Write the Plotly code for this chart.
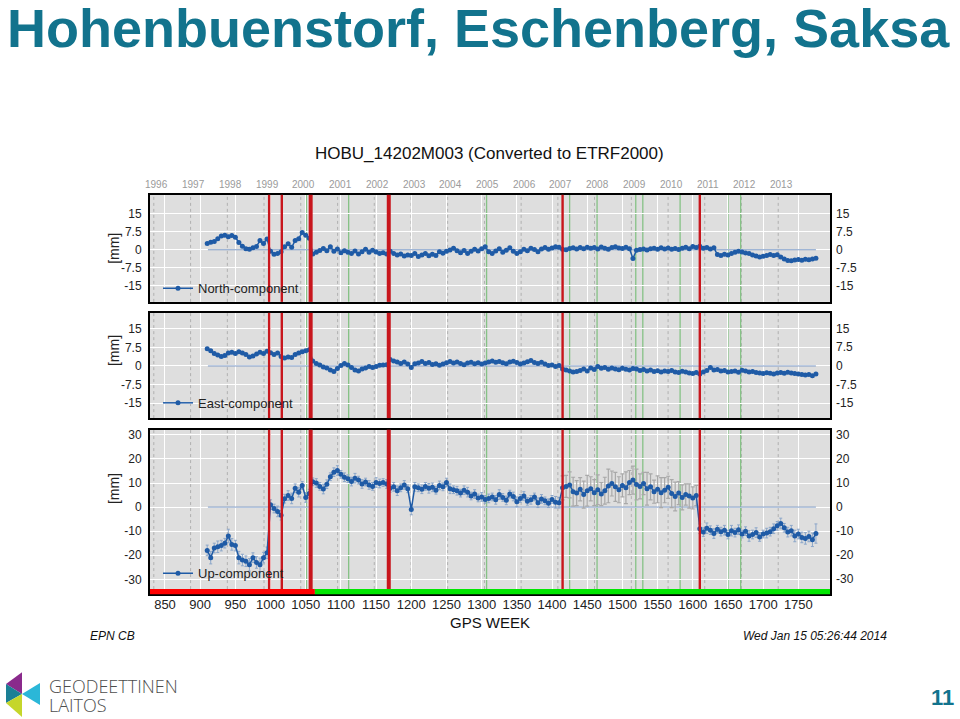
import plotly.graph_objects as go

W, H = 960, 719


def px(x):
    return x / W


def py(y):
    return 1 - y / H


# ---------------- data ----------------
weeks = list(range(910, 1776, 5))  # GPS weeks of the (sampled) weekly solutions

north = [
    2.6, 3.1, 3.4, 4.6, 5.7, 6.0, 5.4, 5.9, 5.2, 3.0,
    1.5, 0.4, 0.2, 0.8, 1.4, 3.8, 2.6, 4.5, -0.6, -1.9,
    -1.5, -0.8, 1.2, 2.5, 1.0, 3.8, 4.6, 7.2, 6.0, 4.8,
    -1.8, -1.0, -0.3, 0.5, -0.4, 1.2, -0.6, 0.3, -1.2, -0.4,
    -1.0, -1.6, -0.5, -1.8, -0.8, 0.2, -1.0, -0.2, -0.9, -1.5,
    -1.2, -1.8, -0.6, -1.6, -2.2, -1.8, -2.6, -2.2, -2.4, -1.6,
    -2.8, -2.2, -1.6, -2.5, -1.9, -2.4, -0.8, -1.4, -0.6, -0.1,
    0.6, -0.4, -1.2, -0.3, -1.5, -0.6, 0.2, -0.5, 0.4, 1.2,
    -0.8, -1.6, -0.5, 0.4, -1.0, -0.2, 0.8, -0.6, -1.5, -0.8,
    0.2, -0.4, 0.6, 0.1, -0.8, 0.3, 0.9, 0.2, 0.7, 1.2,
    1.0, 0.2, 0.0, 0.5, 0.8, 0.3, 0.9, 0.4, 1.0, 0.6,
    0.9, 0.3, 1.1, 0.6, 0.2, 0.9, 1.2, 0.7, 0.5, 1.0,
    0.4, -3.6, -0.2, 0.1, 0.3, -0.1, 0.4, 0.6, 0.2, 0.8,
    0.3, 0.7, 0.2, 0.5, 0.1, 0.6, 1.0, 0.4, 1.3, 0.9,
    1.5, 0.6, 0.9, 0.3, 0.8, -2.0, -2.4, -1.9, -2.2, -1.6,
    -1.0, -0.6, -0.9, -1.3, -1.6, -2.2, -2.6, -3.0, -2.7, -2.4,
    -2.0, -2.4, -2.1, -3.0, -3.8, -4.5, -4.6, -4.2, -4.0, -4.3,
    -3.9, -4.1, -3.8, -3.5,
]

east = [
    7.0, 6.2, 5.0, 4.4, 3.8, 4.2, 5.2, 5.6, 5.0, 5.8,
    5.2, 4.6, 3.6, 4.0, 4.8, 5.6, 5.0, 6.0, 5.4, 4.6,
    5.2, 3.8, 3.2, 3.6, 3.4, 4.6, 5.2, 5.8, 6.2, 6.6,
    2.0, 1.0, 0.4, -0.4, -0.8, -1.6, -2.2, -1.0, 0.2, 1.0,
    0.4, -0.6, -1.6, -2.0, -1.2, -0.8, -0.2, -0.6, -0.2, 0.3,
    0.4, 0.5, 2.6, 2.0, 1.6, 1.0, 1.6, 0.8, -0.6, 0.9,
    1.2, 1.8, 1.0, 1.4, 0.6, 0.9, 0.3, 0.8, 1.3, 1.8,
    1.2, 1.6, 1.0, 0.5, 1.2, 1.5, 0.9, 1.3, 0.8, 1.2,
    1.6, 2.0, 1.5, 1.8, 1.3, 0.9, 1.6, 1.9, 1.4, 0.8,
    1.2, 1.7, 2.2, 1.4, 1.0, 1.5, 0.8, 0.2, 0.4, -0.2,
    0.2, -1.2, -1.6, -2.0, -2.4, -2.2, -1.8, -1.2, -2.0, -0.8,
    -1.4, -0.2, -0.9, -0.6, -1.3, -0.8, -1.2, -1.5, -0.9, -1.3,
    -1.6, -1.0, -1.2, -1.8, -1.4, -2.0, -1.6, -2.2, -1.9, -2.4,
    -2.0, -2.2, -1.8, -2.4, -2.6, -2.1, -2.4, -2.8, -3.0, -2.6,
    -3.2, -2.4, -1.8, -0.6, -1.6, -1.4, -2.0, -1.8, -2.4, -2.2,
    -2.0, -2.5, -1.7, -2.0, -2.4, -2.2, -2.6, -2.8, -3.0, -2.7,
    -2.9, -3.2, -2.8, -2.6, -2.9, -2.5, -2.8, -3.0, -3.2, -3.4,
    -3.6, -3.4, -4.0, -3.2,
]

up = [
    -18.0, -21.0, -17.0, -16.5, -16.0, -15.0, -12.0, -15.5, -16.0, -21.0,
    -22.0, -22.5, -24.0, -21.0, -23.0, -24.0, -21.0, -19.0, 1.0, -0.6,
    -1.8, -3.4, 3.5, 4.8, 3.6, 7.8, 6.2, 9.0, 4.0, 5.6,
    10.5, 10.0, 8.6, 7.5, 9.5, 12.6, 14.5, 15.2, 13.6, 12.4,
    11.8, 10.6, 12.0, 11.2, 9.6, 10.4, 9.2, 8.6, 10.2, 9.8,
    10.2, 9.6, 7.8, 8.4, 6.8, 8.0, 9.2, 7.6, -1.0, 8.4,
    8.0, 7.4, 8.6, 7.8, 8.2, 7.0, 9.0, 8.4, 10.2, 7.6,
    7.2, 6.8, 5.8, 7.0, 6.2, 4.6, 5.4, 3.8, 4.2, 3.2,
    3.6, 4.2, 3.0, 5.2, 4.0, 2.8, 5.4, 4.4, 2.2, 3.6,
    4.6, 2.4, 3.0, 4.2, 1.8, 3.4, 2.6, 1.6, 3.2, 2.0,
    1.8, 8.0, 8.6, 9.2, 6.4, 5.8, 7.4, 5.2, 6.8, 7.6,
    6.0, 7.2, 5.4, 6.8, 8.8, 9.8, 8.4, 7.2, 9.0, 8.0,
    10.2, 11.2, 9.4, 8.6, 9.8, 7.6, 8.4, 6.4, 7.4, 6.0,
    7.0, 8.2, 5.6, 4.4, 5.8, 4.0, 5.2, 4.6, 3.8, 4.8,
    -9.0, -10.4, -8.8, -9.6, -11.0, -9.2, -10.2, -9.6, -11.4, -9.8,
    -10.6, -9.4, -11.2, -10.0, -12.0, -11.4, -10.6, -12.4, -11.2, -10.8,
    -10.2, -9.0, -7.8, -6.8, -8.6, -10.4, -9.8, -12.0, -11.2, -12.6,
    -13.0, -12.2, -13.6, -11.0,
]

up_err = [
    2.2, 2.6, 2.0, 2.4, 2.2, 2.0, 2.8, 2.4, 2.2, 2.6,
    2.4, 2.2, 2.6, 2.0, 2.4, 2.8, 2.2, 2.4, 2.0, 1.8,
    2.2, 2.0, 1.8, 2.0, 2.2, 1.8, 2.0, 1.6, 2.0, 1.8,
    1.6, 1.8, 1.6, 2.0, 1.8, 1.6, 1.8, 2.0, 1.6, 1.8,
    1.6, 1.8, 2.0, 1.6, 1.8, 1.6, 1.8, 1.6, 2.0, 1.8,
    1.6, 1.8, 1.6, 1.8, 2.0, 1.6, 1.8, 1.6, 2.2, 1.8,
    1.6, 1.8, 1.6, 2.0, 1.8, 1.6, 1.8, 1.6, 1.8, 2.0,
    1.6, 1.8, 1.6, 1.8, 2.0, 1.6, 1.8, 1.6, 1.8, 1.6,
    1.8, 1.6, 1.8, 2.0, 1.6, 1.8, 1.6, 1.8, 2.0, 1.6,
    1.8, 1.6, 1.8, 1.6, 2.0, 1.8, 1.6, 1.8, 1.6, 2.4,
    2.2, 5.0, 4.6, 5.4, 6.0, 5.2, 4.8, 5.6, 6.4, 5.0,
    5.4, 6.2, 4.8, 5.6, 7.0, 5.2, 6.0, 5.4, 4.8, 6.6,
    5.0, 5.8, 6.4, 5.2, 4.6, 6.8, 5.4, 4.8, 5.6, 6.2,
    5.2, 4.6, 5.8, 6.0, 4.8, 5.2, 4.4, 5.0, 4.6, 4.2,
    2.0, 1.8, 2.2, 1.8, 2.0, 1.6, 1.8, 2.0, 1.8, 2.2,
    1.8, 2.0, 1.6, 1.8, 2.2, 1.8, 2.0, 1.8, 1.6, 2.0,
    1.8, 2.0, 1.8, 2.2, 1.8, 2.0, 2.2, 2.4, 2.0, 2.2,
    2.4, 2.2, 2.8, 4.0,
]

# period with degraded (grey) uncertainties in the Up component
degraded_start, degraded_end = 1415, 1605

week_ticks = [850, 900, 950, 1000, 1050, 1100, 1150, 1200, 1250, 1300,
              1350, 1400, 1450, 1500, 1550, 1600, 1650, 1700, 1750]
year_labels = ["1996", "1997", "1998", "1999", "2000", "2001", "2002", "2003", "2004",
               "2005", "2006", "2007", "2008", "2009", "2010", "2011", "2012", "2013"]
year_weeks = [834.1, 886.4, 938.6, 990.7, 1042.9, 1095.3, 1147.4, 1199.6, 1251.7,
              1304.0, 1356.1, 1408.3, 1460.4, 1512.7, 1564.9, 1617.0, 1669.1, 1721.4]

red_breaks = [998, 1016, 1057, 1168, 1415, 1610]
major_breaks = [1057, 1168]
green_events = [1051, 1111, 1307, 1425, 1464, 1519, 1529, 1582, 1650, 1668]
status_split = 1063          # red (before) / green (after) status bar
ref_start, ref_end = 911, 1775

north_ticks = [15, 7.5, 0, -7.5, -15]
north_ticktext = ["15", "7.5", "0", "-7.5", "-15"]
up_ticks = [30, 20, 10, 0, -10, -20, -30]
up_ticktext = ["30", "20", "10", "0", "-10", "-20", "-30"]

# ---------------- figure ----------------
X_RANGE = [828.7, 1795]
FONT = "Liberation Sans, Arial, sans-serif"
BLUE = "#1f5ba6"

panels = [
    dict(name="North-component", vals=north, dom=[py(300.7), py(193.3)], rng=[-21.6, 22.8],
         ticks=north_ticks, tt=north_ticktext, leg_y=py(287), mm_y=230),
    dict(name="East-component", vals=east, dom=[py(417.3), py(311.7)], rng=[-21.1, 21.5],
         ticks=north_ticks, tt=north_ticktext, leg_y=py(402), mm_y=350),
    dict(name="Up-component", vals=up, dom=[py(594), py(429)], rng=[-36.25, 32.1],
         ticks=up_ticks, tt=up_ticktext, leg_y=py(573), mm_y=506),
]

fig = go.Figure()
layout = {}
shapes = []
annotations = []

for i, p in enumerate(panels):
    k = "" if i == 0 else str(i + 1)
    xa, ya = "x" + k, "y" + k
    lg = "legend" if i == 0 else "legend" + str(i + 1)

    # reference line
    fig.add_trace(go.Scatter(x=[ref_start, ref_end], y=[0, 0], mode="lines",
                             line=dict(color="#7f9cc7", width=1), xaxis=xa, yaxis=ya,
                             showlegend=False, hoverinfo="skip"))
    if i == 2:
        norm_w = [w for w in weeks if not (degraded_start <= w <= degraded_end)]
        norm_v = [v for w, v in zip(weeks, up) if not (degraded_start <= w <= degraded_end)]
        norm_e = [e for w, e in zip(weeks, up_err) if not (degraded_start <= w <= degraded_end)]
        deg_w = [w for w in weeks if degraded_start <= w <= degraded_end]
        deg_v = [v for w, v in zip(weeks, up) if degraded_start <= w <= degraded_end]
        deg_e = [e for w, e in zip(weeks, up_err) if degraded_start <= w <= degraded_end]
        fig.add_trace(go.Scatter(x=deg_w, y=deg_v, mode="markers",
                                 marker=dict(size=1, color="rgba(0,0,0,0)"),
                                 error_y=dict(type="data", array=deg_e, visible=True,
                                              color="#a9a9a9", thickness=1.2, width=2),
                                 xaxis=xa, yaxis=ya, showlegend=False, hoverinfo="skip"))
        fig.add_trace(go.Scatter(x=norm_w, y=norm_v, mode="markers",
                                 marker=dict(size=1, color="rgba(0,0,0,0)"),
                                 error_y=dict(type="data", array=norm_e, visible=True,
                                              color="#8ba6c9", thickness=1, width=1.5),
                                 xaxis=xa, yaxis=ya, showlegend=False, hoverinfo="skip"))

    fig.add_trace(go.Scatter(x=weeks, y=p["vals"], mode="lines+markers", name=p["name"],
                             line=dict(color=BLUE, width=1.5),
                             marker=dict(size=5, color=BLUE),
                             xaxis=xa, yaxis=ya, legend=lg))

    layout["xaxis" + k] = dict(
        domain=[px(150), px(830)], range=X_RANGE, anchor=ya,
        tickmode="array", tickvals=week_ticks, ticktext=[str(t) for t in week_ticks],
        showticklabels=(i == 2), ticks="", ticklabelstandoff=-3,
        tickfont=dict(size=13, color="#222", family=FONT),
        showgrid=True, gridcolor="white", gridwidth=1, zeroline=False,
        showline=True, linecolor="black", linewidth=2, mirror=True)
    layout["yaxis" + k] = dict(
        domain=p["dom"], range=p["rng"], anchor=xa,
        tickmode="array", tickvals=p["ticks"], ticktext=p["tt"],
        ticks="outside", ticklen=4, tickcolor="rgba(0,0,0,0)",
        tickfont=dict(size=12, color="#222", family=FONT),
        showgrid=True, gridcolor="white", gridwidth=1, zeroline=False,
        showline=True, linecolor="black", linewidth=2, mirror=True)
    layout[lg] = dict(x=px(158), y=p["leg_y"], xanchor="left", yanchor="middle",
                      bgcolor="rgba(0,0,0,0)", font=dict(size=13, color="#222", family=FONT),
                      itemwidth=30)

    # right-hand tick labels
    for tv, tt in zip(p["ticks"], p["tt"]):
        annotations.append(dict(x=1, xref=xa + " domain", y=tv, yref=ya, text=tt,
                                showarrow=False, xanchor="left", xshift=4,
                                font=dict(size=12, color="#222", family=FONT)))
    # [mm]
    annotations.append(dict(x=px(104), xref="paper", y=py(p["mm_y"]), yref="paper",
                            text="[mm]", textangle=-90, showarrow=False,
                            font=dict(size=14, color="#222", family=FONT)))

    y_bottom = 0.032 if i == 2 else 0
    # year dotted lines
    for yw in year_weeks:
        shapes.append(dict(type="line", xref=xa, yref=ya + " domain", x0=yw, x1=yw,
                           y0=y_bottom, y1=1, layer="below",
                           line=dict(color="#b0b0b0", width=1, dash="dot")))
    for g in green_events:
        shapes.append(dict(type="line", xref=xa, yref=ya + " domain", x0=g, x1=g,
                           y0=y_bottom, y1=1, layer="below",
                           line=dict(color="#86c286", width=1.3)))
    for r in red_breaks:
        shapes.append(dict(type="line", xref=xa, yref=ya + " domain", x0=r, x1=r,
                           y0=y_bottom, y1=1, layer="above",
                           line=dict(color="#c8161d", width=4 if r in major_breaks else 2.4)))

# status bar at the bottom of the Up panel
shapes.append(dict(type="rect", xref="x3", yref="y3 domain", x0=X_RANGE[0], x1=status_split,
                   y0=0, y1=0.032, fillcolor="#ff0000", line=dict(width=0), layer="above"))
shapes.append(dict(type="rect", xref="x3", yref="y3 domain", x0=status_split, x1=X_RANGE[1],
                   y0=0, y1=0.032, fillcolor="#00e600", line=dict(width=0), layer="above"))

# year labels on top
for yw, yl in zip(year_weeks, year_labels):
    annotations.append(dict(x=yw, xref="x", y=1, yref="y domain", text=yl, showarrow=False,
                            yanchor="bottom", yshift=3, xshift=3,
                            font=dict(size=10, color="#9a9a9a", family=FONT)))

# texts
annotations += [
    dict(x=px(5), y=py(26), xref="paper", yref="paper", xanchor="left", yanchor="middle",
         text="<b>Hohenbuenstorf, Eschenberg, Saksa</b>", showarrow=False,
         font=dict(size=54, color="#12738d", family=FONT)),
    dict(x=px(490), y=py(152), xref="paper", yref="paper", xanchor="center", yanchor="middle",
         text="HOBU_14202M003 (Converted to ETRF2000)", showarrow=False,
         font=dict(size=17, color="#111", family=FONT)),
    dict(x=px(490), y=py(622), xref="paper", yref="paper", xanchor="center", yanchor="middle",
         text="GPS WEEK", showarrow=False, font=dict(size=15, color="#111", family=FONT)),
    dict(x=px(88), y=py(636), xref="paper", yref="paper", xanchor="left", yanchor="middle",
         text="<i>EPN CB</i>", showarrow=False, font=dict(size=12, color="#111", family=FONT)),
    dict(x=px(889), y=py(636), xref="paper", yref="paper", xanchor="right", yanchor="middle",
         text="<i>Wed Jan 15 05:26:44 2014</i>", showarrow=False,
         font=dict(size=12, color="#111", family=FONT)),
    dict(x=px(47), y=py(686), xref="paper", yref="paper", xanchor="left", yanchor="middle",
         text="GEODEETTINEN", showarrow=False,
         font=dict(size=18, color="#4d4d4d", family="Open Sans, sans-serif", weight=300)),
    dict(x=px(47), y=py(705), xref="paper", yref="paper", xanchor="left", yanchor="middle",
         text="LAITOS", showarrow=False,
         font=dict(size=18, color="#4d4d4d", family="Open Sans, sans-serif", weight=300)),
    dict(x=px(956), y=py(697), xref="paper", yref="paper", xanchor="right", yanchor="middle",
         text="<b>11</b>", showarrow=False, font=dict(size=22, color="#12738d", family=FONT)),
]


def poly(points, color):
    d = "M " + " L ".join(f"{px(a):.5f},{py(b):.5f}" for a, b in points) + " Z"
    return dict(type="path", xref="paper", yref="paper", path=d, fillcolor=color,
                line=dict(width=0), layer="above")


# logo
shapes += [
    poly([(6, 684), (22, 672), (22, 694)], "#8a2a8c"),
    poly([(6, 684), (22, 694), (6, 703)], "#1b7f95"),
    poly([(6, 703), (22, 694), (22, 717)], "#c5d62b"),
    poly([(22, 694), (40, 683), (40, 705)], "#2bb7d8"),
]

fig.update_layout(**layout)
fig.update_layout(
    width=W, height=H, autosize=False,
    margin=dict(l=0, r=0, t=0, b=0),
    paper_bgcolor="white", plot_bgcolor="#dedede",
    shapes=shapes, annotations=annotations,
    font=dict(family=FONT),
)

fig.write_html("out.html", config={"displayModeBar": False},
               post_script="document.body.style.margin='0';document.body.style.overflow='hidden';")
